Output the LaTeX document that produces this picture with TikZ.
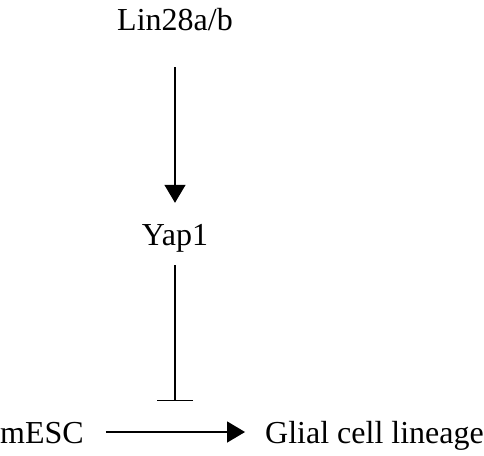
\documentclass[tikz,border=0pt]{standalone}
\usepackage{fontspec}
\setmainfont{Liberation Serif}
\usetikzlibrary{arrows.meta}

\begin{document}
\begin{tikzpicture}[x=1pt,y=-1pt,
    lbl/.style={inner sep=0pt,text height=22pt,text depth=0pt,font=\fontsize{32}{38}\selectfont},
    act/.style={line width=1.4pt,-{Triangle[length=18pt,width=21pt]}},
    inh/.style={line width=1.4pt,-{Bar[width=36pt,line width=1.4pt]}}]
                    \useasboundingbox (0,0) rectangle (484,455);
                    \node[lbl,anchor=base] (lin) at (175,30) {Lin28a/b};
                    \node[lbl,anchor=base] (yap) at (175,245) {Yap1};
                    \node[lbl,anchor=base west] (mesc) at (0,443) {mESC};
                    \node[lbl,anchor=base east] (glial) at (484,443) {Glial cell lineage};
                    \draw[act,shorten <=37pt,shorten >=20pt] (lin) -- (yap);
                    \draw[act,shorten <=22pt,shorten >=20pt] (mesc) -- coordinate[midway] (mid) (glial);
                    \draw[inh,shorten <=20pt,shorten >=31pt] (yap) -- (yap|-mid);
                \end{tikzpicture}
\end{document}
